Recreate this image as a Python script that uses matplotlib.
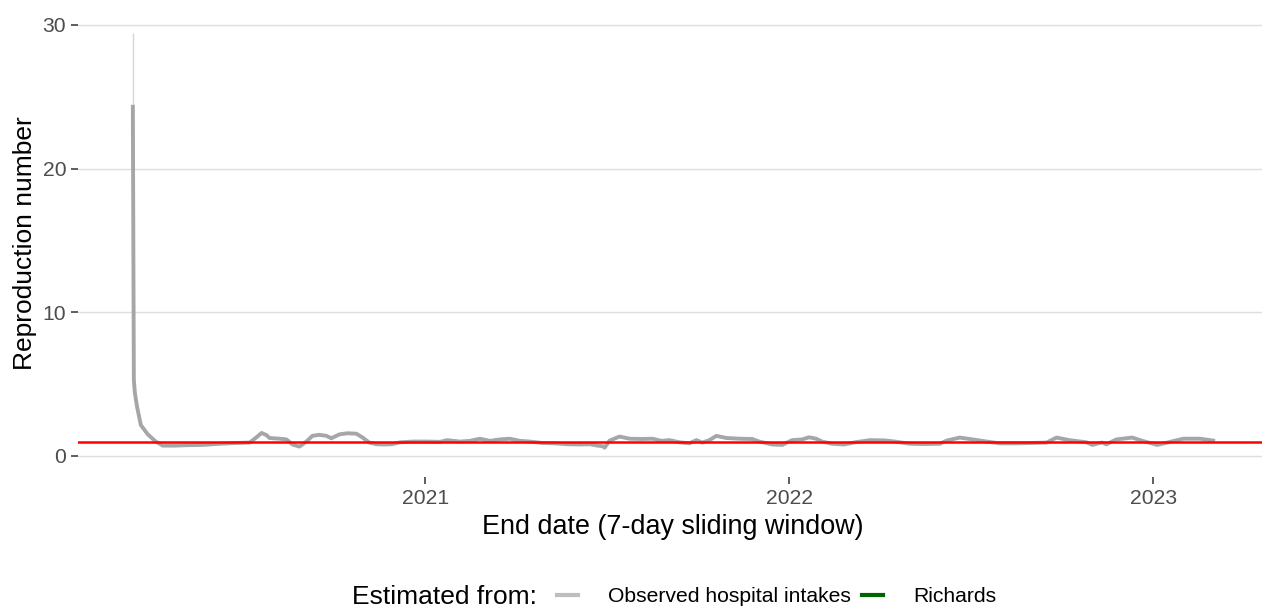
import matplotlib
matplotlib.use('Agg')
import matplotlib.pyplot as plt
import matplotlib.dates as mdates
from matplotlib.lines import Line2D
import pandas as pd

plt.rcParams['font.family'] = ['Liberation Sans', 'DejaVu Sans']

# Rt estimates (7-day sliding window)
dates = [
    '2020-03-14', '2020-03-15', '2020-03-16', '2020-03-18', '2020-03-22', '2020-03-29',
    '2020-04-06', '2020-04-13', '2020-04-25', '2020-05-07', '2020-05-23', '2020-06-09',
    '2020-06-24', '2020-07-09', '2020-07-16', '2020-07-21', '2020-07-26', '2020-07-29',
    '2020-08-08', '2020-08-15', '2020-08-21', '2020-08-28', '2020-09-04', '2020-09-10',
    '2020-09-17', '2020-09-24', '2020-09-29', '2020-10-07', '2020-10-15', '2020-10-24',
    '2020-10-30', '2020-11-06', '2020-11-13', '2020-11-21', '2020-11-29', '2020-12-07',
    '2020-12-20', '2021-01-03', '2021-01-16', '2021-01-23', '2021-02-05', '2021-02-15',
    '2021-02-25', '2021-03-07', '2021-03-17', '2021-03-27', '2021-04-06', '2021-04-16',
    '2021-04-29', '2021-05-11', '2021-05-23', '2021-06-05', '2021-06-15', '2021-06-23',
    '2021-06-28', '2021-06-30', '2021-07-05', '2021-07-15', '2021-07-25', '2021-08-07',
    '2021-08-17', '2021-08-26', '2021-09-03', '2021-09-13', '2021-09-23', '2021-09-30',
    '2021-10-06', '2021-10-13', '2021-10-20', '2021-10-30', '2021-11-12', '2021-11-25',
    '2021-12-02', '2021-12-15', '2021-12-25', '2022-01-04', '2022-01-14', '2022-01-21',
    '2022-01-28', '2022-02-03', '2022-02-13', '2022-02-25', '2022-03-08', '2022-03-23',
    '2022-04-07', '2022-04-17', '2022-05-02', '2022-05-17', '2022-06-01', '2022-06-08',
    '2022-06-21', '2022-07-04', '2022-07-18', '2022-07-31', '2022-08-15', '2022-08-30',
    '2022-09-16', '2022-09-26', '2022-10-09', '2022-10-26', '2022-11-01', '2022-11-08',
    '2022-11-11', '2022-11-15', '2022-11-25', '2022-12-11', '2022-12-21', '2023-01-05',
    '2023-01-15', '2023-01-31', '2023-02-17', '2023-03-02',
]
r_observed = [
    24.3, 5.3, 4.4, 3.5, 2.15, 1.5,
    1.0, 0.72, 0.72, 0.75, 0.77, 0.85,
    0.9, 0.93, 1.3, 1.6, 1.45, 1.25,
    1.2, 1.15, 0.8, 0.65, 1.0, 1.4,
    1.47, 1.4, 1.23, 1.5, 1.58, 1.55,
    1.3, 0.93, 0.82, 0.8, 0.82, 0.95,
    1.0, 1.0, 0.98, 1.1, 1.0, 1.05,
    1.2, 1.05, 1.15, 1.2, 1.05, 1.0,
    0.9, 0.88, 0.82, 0.8, 0.82, 0.72,
    0.68, 0.58, 1.07, 1.35, 1.2, 1.18,
    1.2, 1.05, 1.1, 0.95, 0.88, 1.1,
    0.93, 1.1, 1.4, 1.25, 1.2, 1.18,
    1.0, 0.8, 0.77, 1.1, 1.15, 1.3,
    1.2, 1.0, 0.85, 0.8, 0.95, 1.1,
    1.08, 1.0, 0.85, 0.83, 0.85, 1.07,
    1.28, 1.15, 1.0, 0.88, 0.88, 0.9,
    0.93, 1.28, 1.1, 0.95, 0.77, 0.9,
    0.93, 0.81, 1.15, 1.28, 1.05, 0.77,
    0.93, 1.2, 1.2, 1.07,
]

# upper part of the interval, only visible on the first day
ci_dates = ['2020-03-14']
ci_low = [14.6]
ci_high = [29.4]

threshold = 1

fig = plt.figure(figsize=(12.64, 6.08), dpi=100)
ax = fig.add_axes([0.0617, 0.2158, 0.9367, 0.7658])

ax.vlines(pd.to_datetime(ci_dates), ci_low, ci_high, color='#d6d6d6', lw=1)
ax.plot(pd.to_datetime(dates), r_observed, color='#a6a6a6', lw=2.8,
        solid_joinstyle='round')
ax.axhline(threshold, color='red', lw=1.8)

ax.set_xlim(pd.Timestamp('2020-01-19'), pd.Timestamp('2023-04-20'))
ax.set_ylim(-1.45, 30.95)
ax.set_yticks([0, 10, 20, 30])
ax.set_xticks(pd.to_datetime(['2021-01-01', '2022-01-01', '2023-01-01']))
ax.xaxis.set_major_formatter(mdates.DateFormatter('%Y'))

for s in ax.spines.values():
    s.set_visible(False)
ax.set_axisbelow(True)
ax.grid(axis='y', color='#dedede', lw=1)
ax.tick_params(length=5, width=1.1, color='#333333', labelcolor='#4d4d4d',
               labelsize=15.2, pad=3.5)

fig.text(25.5 / 1264, 1 - 243 / 608, 'Reproduction number', rotation=90,
         fontsize=19, ha='center', va='center')
fig.text(673 / 1264, 1 - 527 / 608, 'End date (7-day sliding window)',
         fontsize=19.4, ha='center', va='center')

# legend along the bottom
leg_y = 1 - 597 / 608
fig.text(352 / 1264, leg_y, 'Estimated from:', fontsize=19, ha='left', va='center')
handles = [Line2D([], [], color='#bebebe', lw=3),
           Line2D([], [], color='#006400', lw=3)]
fig.legend(handles, ['Observed hospital intakes', 'Richards'],
           loc='center left', bbox_to_anchor=(557 / 1264, leg_y), ncol=2,
           frameon=False, fontsize=15.2, handlelength=1.0, handletextpad=1.42,
           columnspacing=0.52, borderpad=0, borderaxespad=0)

fig.savefig('out.png', dpi=100)
